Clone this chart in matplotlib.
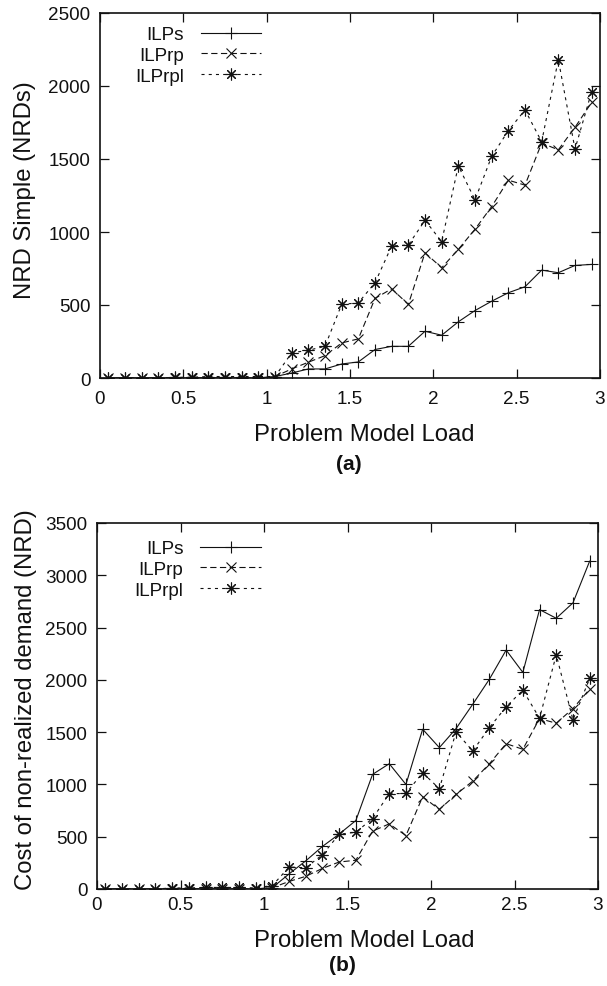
import matplotlib
matplotlib.use("Agg")
import matplotlib.pyplot as plt

plt.rcParams['font.family'] = ['Liberation Sans', 'DejaVu Sans']
plt.rcParams['lines.scale_dashes'] = False

# ---- data ----
load = [0.05, 0.15, 0.25, 0.35, 0.45, 0.55, 0.65, 0.75, 0.85, 0.95,
        1.05, 1.15, 1.25, 1.35, 1.45, 1.55, 1.65, 1.75, 1.85, 1.95,
        2.05, 2.15, 2.25, 2.35, 2.45, 2.55, 2.65, 2.75, 2.85, 2.95]

a_ilps = [0, 0, 0, 0, 0, 0, 0, 0, 0, 0,
          10, 34, 62, 62, 96, 110, 195, 217, 217, 320,
          293, 385, 462, 526, 584, 625, 739, 721, 771, 778]
a_ilprp = [0, 0, 0, 0, 0, 0, 0, 0, 0, 0,
           10, 62, 108, 153, 240, 268, 545, 611, 504, 858,
           755, 881, 1019, 1174, 1355, 1321, 1609, 1563, 1717, 1888]
a_ilprpl = [0, 0, 0, 0, 5, 5, 10, 10, 10, 10,
            10, 172, 190, 217, 504, 515, 652, 904, 911, 1080,
            934, 1453, 1220, 1518, 1694, 1836, 1618, 2181, 1568, 1962]

b_ilps = [0, 0, 0, 0, 0, 0, 0, 0, 0, 0,
          13, 144, 269, 407, 525, 655, 1096, 1198, 1000, 1528,
          1352, 1534, 1767, 2007, 2285, 2071, 2672, 2589, 2736, 3135]
b_ilprp = [0, 0, 0, 0, 0, 0, 0, 0, 0, 0,
           13, 72, 121, 197, 258, 275, 553, 623, 511, 882,
           761, 904, 1032, 1198, 1390, 1336, 1630, 1585, 1726, 1911]
b_ilprpl = [0, 0, 0, 0, 10, 10, 15, 15, 15, 10,
            33, 210, 203, 328, 523, 543, 674, 911, 914, 1112,
            959, 1502, 1320, 1544, 1742, 1902, 1633, 2240, 1617, 2013]

series_names = ['ILPs', 'ILPrp', 'ILPrpl']
x_ticks = [0, 0.5, 1, 1.5, 2, 2.5, 3]
x_ticklabels = ['0', '0.5', '1', '1.5', '2', '2.5', '3']
a_yticks = [0, 500, 1000, 1500, 2000, 2500]
b_yticks = [0, 500, 1000, 1500, 2000, 2500, 3000, 3500]

FS = 13.6
LFS = 17.2
INK = '#111111'

fig = plt.figure(figsize=(6.07, 9.87), dpi=100)

ax_a = fig.add_axes([100/607, 1 - 379/987, 500/607, 365/987])
ax_b = fig.add_axes([97/607, 1 - 890/987, 501/607, 366/987])

styles = [
    dict(linestyle='-', marker='+', markersize=8),
    dict(linestyle=(0, (4.5, 2.5)), marker='x', markersize=6.8),
    dict(linestyle=(0, (2.2, 3.0)), marker=(8, 2, 0), markersize=8.5),
]


def draw(ax, ys, yticks, ylim, ylabel, xpad, leg_anchor):
    for y, name, st in zip(ys, series_names, styles):
        ax.plot(load, y, color=INK, linewidth=0.8, markeredgewidth=0.8,
                label=name, **st)
    ax.set_xlim(0, 3)
    ax.set_ylim(*ylim)
    ax.set_xticks(x_ticks)
    ax.set_xticklabels(x_ticklabels)
    ax.set_yticks(yticks)
    ax.tick_params(direction='in', length=6.5, width=0.9, top=True, right=True,
                   labelsize=FS, colors=INK)
    ax.tick_params(axis='x', pad=xpad)
    ax.tick_params(axis='y', pad=7)
    for s in ax.spines.values():
        s.set_linewidth(1.2)
        s.set_color(INK)
    ax.set_ylabel(ylabel, fontsize=LFS, color=INK)
    ax.set_xlabel('Problem Model Load', fontsize=LFS, color=INK)
    ax.xaxis.label.set_va('center')
    ax.yaxis.label.set_va('center')
    leg = ax.legend(loc='upper left', bbox_to_anchor=leg_anchor, frameon=False,
                    markerfirst=False, fontsize=FS, handlelength=3.2,
                    handletextpad=0.9, labelspacing=0.18, borderpad=0,
                    borderaxespad=0)
    for t in leg.get_texts():
        t.set_color(INK)


draw(ax_a, [a_ilps, a_ilprp, a_ilprpl], a_yticks, (0, 2500),
     'NRD Simple (NRDs)', 9, (0.07, 0.964))
ax_a.xaxis.set_label_coords(0.528, (379 - 435) / 365)
ax_a.yaxis.set_label_coords((25 - 100) / 500, (379 - 190) / 365)

draw(ax_b, [b_ilps, b_ilprp, b_ilprpl], b_yticks, (0, 3500),
     'Cost of non-realized demand (NRD)', 5, (0.075, 0.953))
ax_b.xaxis.set_label_coords(0.533, (890 - 941) / 366)
ax_b.yaxis.set_label_coords((26 - 97) / 501, (890 - 700) / 366)

fig.text(349/607, 1 - 465/987, '(a)', ha='center', va='center',
         fontsize=15, fontweight='bold', color=INK)
fig.text(342/607, 1 - 966/987, '(b)', ha='center', va='center',
         fontsize=15, fontweight='bold', color=INK)

fig.savefig('out.png', dpi=100)
